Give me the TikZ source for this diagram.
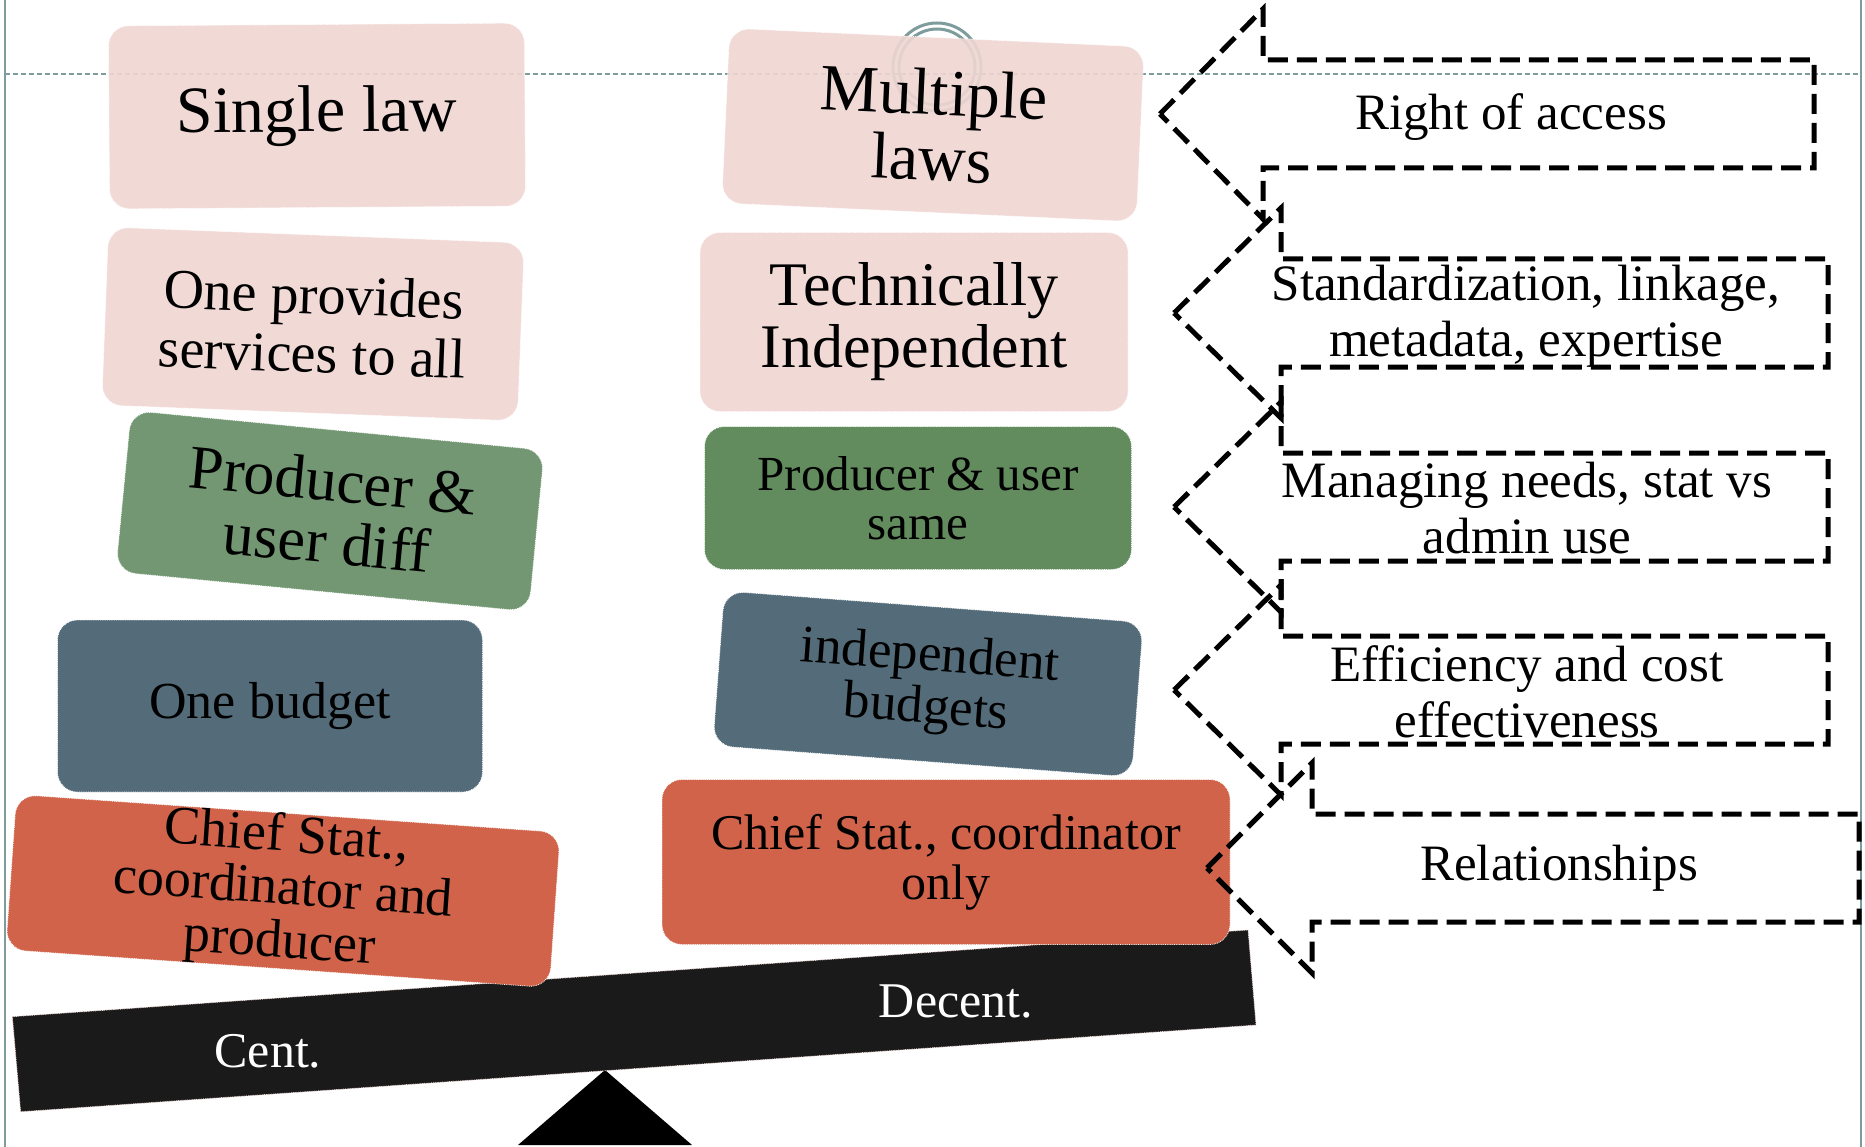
\documentclass[tikz,border=0pt]{standalone}
\usepackage{fontspec}
\setmainfont{Liberation Serif}
\definecolor{rose}{HTML}{EFD6D2}
\definecolor{sage}{HTML}{729772}
\definecolor{moss}{HTML}{628B5E}
\definecolor{slate}{HTML}{546B7A}
\definecolor{rust}{HTML}{D0634A}
\definecolor{beam}{HTML}{1A1A1A}
\definecolor{frame}{HTML}{7F9C9C}
\tikzstyle{card}=[rounded corners=20pt, draw=white, densely dotted, line width=0.8pt, align=center, inner sep=0pt]
\tikzstyle{lawcard}=[card, fill=rose, fill opacity=0.9, text opacity=1]
\tikzstyle{rolecard}=[card, fill=sage]
\tikzstyle{moneycard}=[card, fill=slate]
\tikzstyle{chiefcard}=[card, fill=rust]
\tikzstyle{callout}=[draw, line width=5pt, dash pattern=on 20pt off 9pt]
\tikzstyle{calltext}=[align=center, font=\fontsize{51}{56}\selectfont]

\begin{document}
\begin{tikzpicture}[x=1pt, y=-1pt]
  \useasboundingbox (0,0) rectangle (1865,1147);
  % slide frame
  \draw[frame, line width=2pt] (5,0) -- (5,1147);
  \draw[frame, line width=2pt] (1861,0) -- (1861,1147);
  \draw[frame, line width=1.5pt, dash pattern=on 5pt off 3pt] (5,74) -- (1861,74);
  \draw[frame, line width=3pt] (937,67) circle (44);
  \draw[frame, line width=3pt] (937,67) circle (38);

  % seesaw
  \fill (605,1070) -- (692,1145) -- (518,1145) -- cycle;
  \fill[beam, draw=rose, densely dotted, line width=0.8pt] (12.4,1016.7) -- (1248,930) -- (1256,1025) -- (20.7,1111.7) -- cycle;
  \node[white, font=\fontsize{50}{50}\selectfont] (cent) at (268,1051) {Cent.};
  \node[white, font=\fontsize{50}{50}\selectfont] (decent) at (956,1001) {Decent.};

  % centralised side
  \node[lawcard, minimum width=416pt, minimum height=183pt, rotate=0.4, font=\fontsize{66}{66}\selectfont] (single) at (317,116) {Single law};
  \node[lawcard, minimum width=416pt, minimum height=178pt, rotate=-2.2, font=\fontsize{56}{59}\selectfont] (provides) at (313,324) {One provides\\services to all};
  \node[rolecard, minimum width=415pt, minimum height=162pt, rotate=-5.5, font=\fontsize{62}{62}\selectfont] (diff) at (330,511) {Producer \&\\user diff};
  \node[moneycard, minimum width=425pt, minimum height=172pt, font=\fontsize{52}{52}\selectfont] (onebudget) at (270,706) {One budget};
  \node[chiefcard, minimum width=545pt, minimum height=152pt, rotate=-4, font=\fontsize{54}{53}\selectfont] (chiefc) at (283,891) {Chief Stat.,\\coordinator and\\producer};

  % decentralised side
  \node[lawcard, minimum width=415pt, minimum height=175pt, rotate=-2.6, font=\fontsize{66}{66}\selectfont] (multiple) at (933,125) {Multiple\\laws};
  \node[lawcard, minimum width=428pt, minimum height=179pt, font=\fontsize{62}{62}\selectfont] (technical) at (914,322) {Technically\\Independent};
  \node[rolecard, fill=moss, minimum width=427pt, minimum height=143pt, font=\fontsize{49}{49}\selectfont] (same) at (918,498) {Producer \& user\\same};
  \node[moneycard, minimum width=420pt, minimum height=155pt, rotate=-4.3, font=\fontsize{53}{52}\selectfont] (budgets) at (928,684) {independent\\budgets};
  \node[chiefcard, minimum width=568pt, minimum height=165pt, font=\fontsize{50}{50}\selectfont] (chiefd) at (946,862) {Chief Stat., coordinator\\only};

  % factors
  \foreach \ty/\tx/\hx/\rx in {114/1160/1263/1814, 313/1174/1281/1828, 507/1174/1281/1828, 690/1174/1281/1828, 868/1207/1312/1859}
    \draw[callout] (\tx,\ty) -- (\hx,{\ty-105}) -- (\hx,{\ty-54}) -- (\rx,{\ty-54}) -- (\rx,{\ty+54}) -- (\hx,{\ty+54}) -- (\hx,{\ty+105}) -- cycle;
  \node[calltext] (access) at (1511,117) {Right of access};
  \node[calltext] (standard) at (1526,316) {Standardization, linkage,\\metadata, expertise};
  \node[calltext] (needs) at (1527,508) {Managing needs, stat vs\\admin use};
  \node[calltext] (efficiency) at (1527,692) {Efficiency and cost\\effectiveness};
  \node[calltext] (relation) at (1559,868) {Relationships};
\end{tikzpicture}
\end{document}
